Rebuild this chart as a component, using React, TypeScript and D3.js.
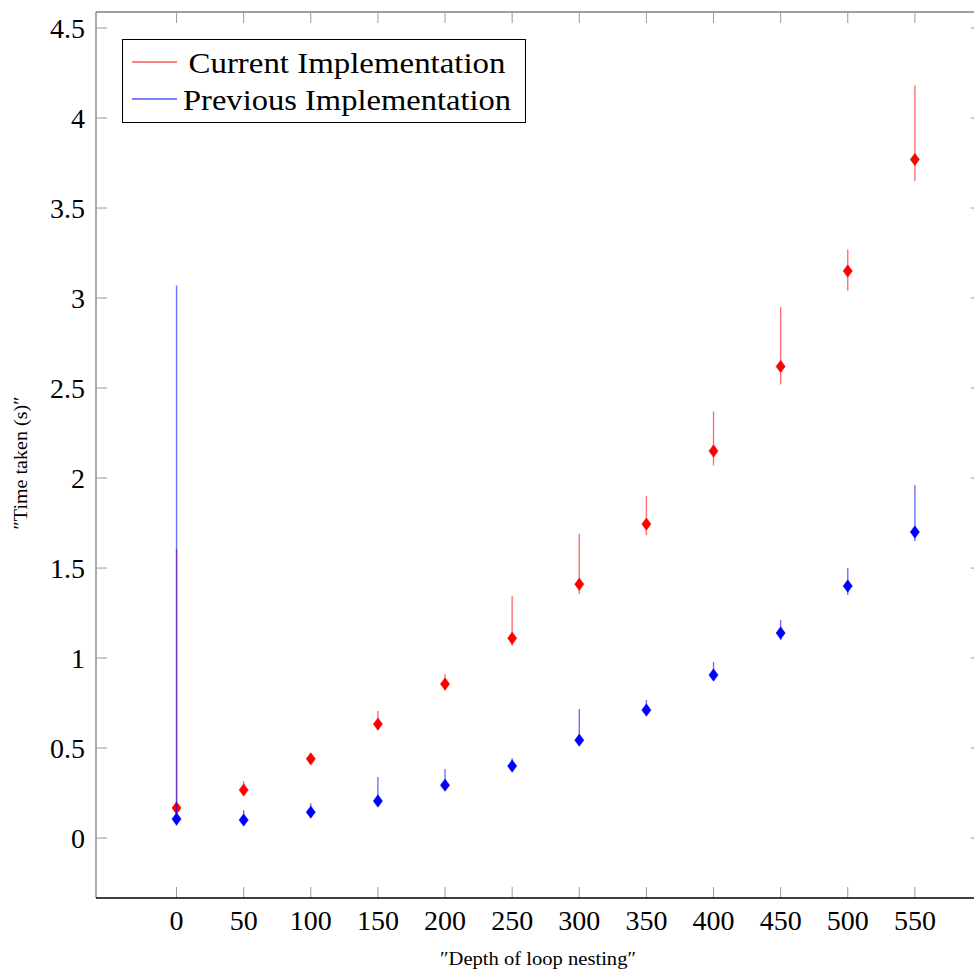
import * as d3 from 'd3';

const depths = [0, 50, 100, 150, 200, 250, 300, 350, 400, 450, 500, 550];

// "Current Implementation": mean, error-bar low, error-bar high
const currentMean = [0.167, 0.267, 0.44, 0.633, 0.856, 1.11, 1.41, 1.744, 2.15, 2.62, 3.15, 3.77];
const currentLow = [0.15, 0.24, 0.425, 0.6, 0.82, 1.067, 1.356, 1.683, 2.07, 2.52, 3.04, 3.65];
const currentHigh = [1.606, 0.317, 0.46, 0.706, 0.91, 1.344, 1.69, 1.9, 2.37, 2.95, 3.27, 4.18];

// "Previous Implementation"
const previousMean = [0.106, 0.1, 0.144, 0.206, 0.294, 0.4, 0.544, 0.711, 0.906, 1.139, 1.4, 1.7];
const previousLow = [0.07, 0.075, 0.115, 0.18, 0.265, 0.375, 0.515, 0.685, 0.875, 1.1, 1.35, 1.65];
const previousHigh = [3.07, 0.156, 0.194, 0.339, 0.383, 0.444, 0.717, 0.767, 0.978, 1.211, 1.5, 1.96];

const xTicks = depths;
const yTicks = [0, 0.5, 1, 1.5, 2, 2.5, 3, 3.5, 4, 4.5];

const seriesNames = ['Current Implementation', 'Previous Implementation'];
const seriesColors = ['#ff0000', '#0000ff'];
const legendTextWidths = [317, 328];

const FONT = 'Liberation Serif, DejaVu Serif, serif';

export default function App() {
  const width = 974;
  const height = 972;
  const margin = { top: 12, right: -8, bottom: 74, left: 96 };

  const x = d3.scaleLinear()
    .domain([-60, 600])
    .range([margin.left, width - margin.right]);

  const y = d3.scaleLinear()
    .domain([-0.333, 4.589])
    .range([height - margin.bottom, margin.top]);

  const x0 = margin.left;
  const x1 = width - margin.right;
  const y0 = height - margin.bottom;
  const y1 = margin.top;
  const tickLen = 11;

  const series = [
    { mean: currentMean, low: currentLow, high: currentHigh },
    { mean: previousMean, low: previousLow, high: previousHigh },
  ];

  const diamond = (cx: number, cy: number) => {
    const w = 4.6, h = 6.2;
    return `M${cx},${cy - h}L${cx + w},${cy}L${cx},${cy + h}L${cx - w},${cy}Z`;
  };

  return (
    <svg width={width} height={height} style={{ position: 'absolute', left: 0, top: 0 }}>
      <rect x={0} y={0} width={width} height={height} fill="#fff" />

      {/* Frame */}
      <line x1={x0} x2={x0} y1={y1} y2={y0} stroke="#808080" strokeWidth={1.3} />
      <line x1={x0} x2={x1} y1={y1} y2={y1} stroke="#808080" strokeWidth={1.3} />
      <line x1={x1} x2={x1} y1={y1} y2={y0} stroke="#808080" strokeWidth={1.3} />

      {/* X ticks */}
      {xTicks.map(t => (
        <g key={'xt' + t}>
          <line x1={x(t)} x2={x(t)} y1={y0} y2={y0 - tickLen} stroke="#9a9a9a" strokeWidth={1} />
          <line x1={x(t)} x2={x(t)} y1={y1} y2={y1 + tickLen} stroke="#9a9a9a" strokeWidth={1} />
          <text x={x(t)} y={y0 + 22} dy="0.35em" textAnchor="middle" fontFamily={FONT} fontSize={28} fill="#000">
            {t}
          </text>
        </g>
      ))}

      {/* Y ticks */}
      {yTicks.map(t => (
        <g key={'yt' + t}>
          <line x1={x0} x2={x0 + tickLen} y1={y(t)} y2={y(t)} stroke="#9a9a9a" strokeWidth={1} />
          <line x1={x1} x2={x1 - tickLen} y1={y(t)} y2={y(t)} stroke="#9a9a9a" strokeWidth={1} />
          <text x={x0 - 11} y={y(t)} dy="0.35em" textAnchor="end" fontFamily={FONT} fontSize={28} fill="#000">
            {t}
          </text>
        </g>
      ))}

      {/* Bottom axis line (black) */}
      <line x1={x0} x2={x1} y1={y0} y2={y0} stroke="#000" strokeWidth={1.4} />

      {/* Series: error bars then markers */}
      {series.map((s, si) => (
        <g key={'s' + si}>
          {depths.map((d, i) => (
            <line key={'e' + i} x1={x(d)} x2={x(d)} y1={y(s.low[i])} y2={y(s.high[i])}
              stroke={seriesColors[si]} strokeWidth={1.4} strokeOpacity={0.56} />
          ))}
          {depths.map((d, i) => (
            <path key={'m' + i} d={diamond(x(d), y(s.mean[i]))} fill={seriesColors[si]} stroke={seriesColors[si]} strokeWidth={0.5} />
          ))}
        </g>
      ))}

      {/* Legend */}
      <g>
        <rect x={122.5} y={39.5} width={403} height={83} fill="#fff" stroke="#000" strokeWidth={1} />
        {seriesNames.map((name, i) => (
          <g key={name}>
            <line x1={132} x2={177} y1={62 + i * 37} y2={62 + i * 37} stroke={seriesColors[i]} strokeWidth={1} />
            <text x={347} y={62 + i * 37} dy="0.35em" textAnchor="middle" fontFamily={FONT} fontSize={30}
              textLength={legendTextWidths[i]} lengthAdjust="spacingAndGlyphs" fill="#000">
              {name}
            </text>
          </g>
        ))}
      </g>

      {/* Axis labels */}
      <text x={538} y={958} dy="0.35em" textAnchor="middle" fontFamily={FONT} fontSize={19}
        textLength={196} lengthAdjust="spacingAndGlyphs" fill="#000">
        ″Depth of loop nesting″
      </text>
      <text transform={`translate(20,463) rotate(-90)`} dy="0.35em" textAnchor="middle" fontFamily={FONT} fontSize={19}
        textLength={133} lengthAdjust="spacingAndGlyphs" fill="#000">
        ″Time taken (s)″
      </text>
    </svg>
  );
}
